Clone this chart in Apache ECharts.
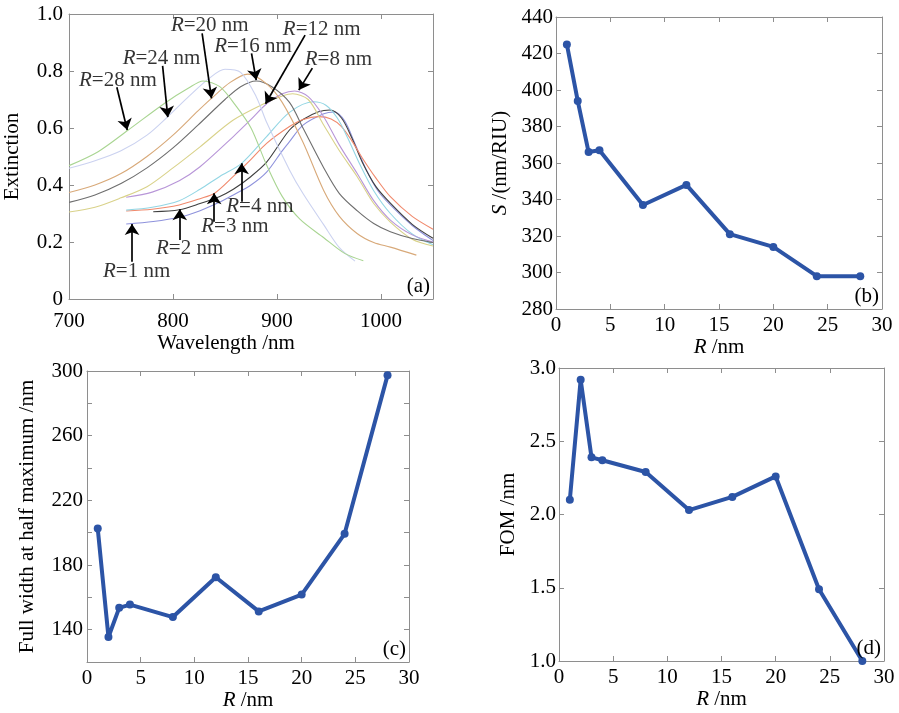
<!DOCTYPE html>
<html>
<head>
<meta charset="utf-8">
<title>Extinction spectra, sensitivity, FWHM and FOM versus R</title>
<script src="https://cdn.jsdelivr.net/npm/echarts@6/dist/echarts.min.js"></script>
<style>
  html, body { margin: 0; padding: 0; background: #ffffff; }
  #chart { width: 899px; height: 713px; }
</style>
</head>
<body>
<div id="chart"></div>
<script>
// ---- data -------------------------------------------------------------
const radii = [1, 2, 3, 4, 8, 12, 16, 20, 24, 28];               // R /nm
const sensitivity = [425, 394, 366, 367, 337, 348, 321, 314, 298, 298]; // S /(nm/RIU)
const fwhm = [202.6, 135.5, 153.5, 155.5, 147.8, 172.4, 151.3, 161.7, 199.3, 297.3]; // nm
const fom = [2.10, 2.92, 2.39, 2.37, 2.29, 2.03, 2.12, 2.26, 1.49, 1.0];

// extinction spectra, [wavelength /nm, extinction]
const spectrumR1 = [[755,0.263],[781,0.272],[806,0.287],[826,0.31],[845,0.34],[858,0.365],[875,0.40],[890,0.445],[905,0.52],[912,0.552],[925,0.61],[945,0.65],[955,0.656],[965,0.625],[975,0.545],[985,0.46],[997,0.38],[1009,0.33],[1030,0.258],[1050,0.205]];
const spectrumR2 = [[781,0.306],[806,0.313],[826,0.335],[845,0.36],[858,0.385],[875,0.43],[890,0.48],[912,0.593],[925,0.63],[940,0.657],[951,0.663],[962,0.635],[972,0.565],[982,0.48],[995,0.395],[1009,0.336],[1030,0.262],[1050,0.213]];
const spectrumR3 = [[755,0.309],[780,0.315],[806,0.33],[826,0.352],[840,0.371],[858,0.43],[875,0.49],[890,0.546],[912,0.605],[925,0.63],[940,0.64],[952,0.632],[962,0.605],[972,0.555],[982,0.495],[995,0.425],[1009,0.359],[1030,0.29],[1050,0.245]];
const spectrumR4 = [[755,0.312],[780,0.322],[806,0.345],[826,0.385],[845,0.43],[866,0.476],[890,0.57],[912,0.655],[935,0.692],[947,0.68],[958,0.635],[968,0.565],[980,0.47],[993,0.38],[1009,0.30],[1030,0.228],[1050,0.19]];
const spectrumR8 = [[755,0.357],[780,0.375],[806,0.415],[826,0.464],[858,0.57],[875,0.63],[890,0.685],[905,0.72],[917,0.73],[930,0.71],[944,0.645],[960,0.54],[977,0.441],[993,0.345],[1009,0.277],[1030,0.225],[1050,0.20]];
const spectrumR12 = [[700,0.305],[725,0.322],[750,0.355],[775,0.394],[800,0.46],[826,0.534],[858,0.628],[889,0.688],[905,0.712],[915,0.72],[930,0.70],[944,0.616],[960,0.52],[977,0.43],[993,0.335],[1009,0.27],[1030,0.21],[1050,0.186]];
const spectrumR16 = [[700,0.339],[725,0.365],[750,0.405],[775,0.46],[800,0.53],[824,0.61],[850,0.70],[865,0.745],[880,0.765],[895,0.745],[912,0.69],[925,0.60],[945,0.46],[960,0.37],[977,0.31],[993,0.265],[1009,0.236],[1030,0.212],[1050,0.198]];
const spectrumR20 = [[700,0.374],[725,0.40],[750,0.44],[775,0.50],[800,0.575],[824,0.66],[837,0.704],[855,0.76],[872,0.789],[890,0.755],[905,0.69],[925,0.55],[945,0.38],[960,0.29],[977,0.23],[993,0.198],[1009,0.182],[1034,0.154]];
const spectrumR24 = [[700,0.459],[725,0.485],[750,0.52],[775,0.575],[795,0.64],[815,0.71],[835,0.775],[850,0.806],[865,0.795],[880,0.71],[890,0.62],[912,0.453],[925,0.37],[945,0.26],[960,0.18],[975,0.133]];
const spectrumR28 = [[700,0.468],[728,0.517],[757,0.593],[792,0.687],[815,0.74],[829,0.765],[845,0.745],[860,0.68],[875,0.60],[890,0.47],[905,0.36],[922,0.28],[945,0.215],[965,0.16],[983,0.134]];

// annotation of each spectrum: text anchor, arrow tail, arrow tip (data coords)
const labelAnchors = [[765,0.096],[816,0.178],[859.5,0.254],[883.5,0.324],[959,0.839],[943,0.946],[877,0.885],[835.4,0.961],[789,0.845],[747,0.768]];
const arrowTails  = [[760.6,0.131],[806.5,0.207],[839.6,0.271],[866,0.341],[934,0.81],[927,0.926],[875.5,0.862],[828,0.932],[790,0.818],[746,0.743]];
const arrowTips   = [[760.6,0.263],[806.5,0.315],[839.6,0.371],[866,0.476],[921,0.733],[889,0.685],[880,0.768],[837,0.704],[795,0.638],[756,0.593]];

// ---- styling ------------------------------------------------------------
const FONT = 'Liberation Serif';
const FS = 21;
const TXT = '#000000';
const BOX = '#8e8e8e';
const BLUE = '#2c54a6';
const spectra = [spectrumR1, spectrumR2, spectrumR3, spectrumR4, spectrumR8, spectrumR12, spectrumR16, spectrumR20, spectrumR24, spectrumR28];
const spectrumColors = ['#8e92dc', '#3f3f3f', '#f0896c', '#93d6e4', '#b896d8', '#d9d28a', '#6e6e6e', '#d8a979', '#cbd2f0', '#a9d592'];

const grids = [
  { left: 69,  top: 14,  width: 364, height: 285 },
  { left: 556, top: 17,  width: 326, height: 292 },
  { left: 87,  top: 371, width: 322, height: 291 },
  { left: 559, top: 368, width: 325, height: 293 }
];
const tags = ['(a)', '(b)', '(c)', '(d)'];

const rich = { i: { fontStyle: 'italic', fontFamily: FONT, fontSize: FS, color: TXT } };
const labelStyle = { fontFamily: FONT, fontSize: FS, color: TXT };

function axisPair(kind, gridIndex, cfg) {
  const base = {
    type: 'value', gridIndex: gridIndex,
    min: cfg.min, max: cfg.max, interval: cfg.interval,
    splitLine: { show: false },
    axisLine: { show: true, onZero: false, lineStyle: { color: BOX, width: 1 } },
    axisTick: { show: true, inside: true, length: 5, lineStyle: { color: BOX } }
  };
  const main = Object.assign({}, base, {
    position: kind === 'x' ? 'bottom' : 'left',
    axisLabel: Object.assign({ margin: cfg.margin, formatter: cfg.formatter, showMaxLabel: cfg.showMax !== false }, labelStyle),
    name: cfg.name, nameLocation: 'middle', nameGap: cfg.nameGap,
    nameTextStyle: Object.assign({ rich: rich, padding: cfg.namePadding || 0 }, labelStyle)
  });
  const mirror = Object.assign({}, base, {
    position: kind === 'x' ? 'top' : 'right',
    axisLabel: { show: false }
  });
  return [main, mirror];
}

const xAxes = [].concat(
  axisPair('x', 0, { min: 700, max: 1050, interval: 100, margin: 12, name: 'Wavelength /nm', nameGap: 33, namePadding: [0, 50, 0, 0],
                     formatter: v => (v % 100 === 0 ? String(v) : ''), showMax: false }),
  axisPair('x', 1, { min: 0, max: 30, interval: 5, margin: 6, name: '{i|R} /nm', nameGap: 28, formatter: v => String(v) }),
  axisPair('x', 2, { min: 0, max: 30, interval: 5, margin: 6, name: '{i|R} /nm', nameGap: 28, formatter: v => String(v) }),
  axisPair('x', 3, { min: 0, max: 30, interval: 5, margin: 6, name: '{i|R} /nm', nameGap: 28, formatter: v => String(v) })
);
const yAxes = [].concat(
  axisPair('y', 0, { min: 0, max: 1, interval: 0.2, margin: 6, name: 'Extinction', nameGap: 46,
                     formatter: v => (v === 0 ? '0' : v.toFixed(1)) }),
  axisPair('y', 1, { min: 280, max: 440, interval: 20, margin: 3, name: '{i|S} /(nm/RIU)', nameGap: 45, formatter: v => String(v) }),
  axisPair('y', 2, { min: 120, max: 300, interval: 20, margin: 4, name: 'Full width at half maximum /nm', nameGap: 49,
                     formatter: v => ((v - 140) % 40 === 0 ? String(v) : '') }),
  axisPair('y', 3, { min: 1, max: 3, interval: 0.5, margin: 3, name: 'FOM /nm', nameGap: 40, formatter: v => v.toFixed(1) })
);

const series = [];
spectra.forEach((pts, k) => {
  series.push({
    type: 'line', xAxisIndex: 0, yAxisIndex: 0, data: pts,
    smooth: 0.3, showSymbol: false, clip: true,
    lineStyle: { color: spectrumColors[k], width: 1.1 }, z: 2
  });
});

// curve labels "R=.. nm" with arrows pointing onto each spectrum
series.push({
  type: 'scatter', xAxisIndex: 0, yAxisIndex: 0, symbolSize: 0, z: 5,
  data: labelAnchors.map(p => p),
  label: {
    show: true, position: 'inside', fontFamily: FONT, fontSize: FS, color: TXT,
    formatter: p => '{i|R}=' + radii[p.dataIndex] + ' nm', rich: rich
  },
  markLine: {
    silent: true, symbol: ['none', 'arrow'], symbolSize: 11, precision: 4,
    label: { show: false },
    lineStyle: { color: '#000000', width: 1.7, type: 'solid', opacity: 1 },
    itemStyle: { color: '#000000' },
    data: arrowTails.map((t, k) => [{ coord: t }, { coord: arrowTips[k] }])
  }
});

const panelData = [sensitivity, fwhm, fom];
panelData.forEach((vals, k) => {
  series.push({
    type: 'line', xAxisIndex: 2 * (k + 1), yAxisIndex: 2 * (k + 1),
    data: radii.map((r, i) => [r, vals[i]]),
    symbol: 'circle', symbolSize: 8, showSymbol: true, clip: false,
    itemStyle: { color: BLUE },
    lineStyle: { color: BLUE, width: 4 }
  });
});

const graphic = grids.map((g, k) => ({
  type: 'text',
  x: g.left + g.width - 3,
  y: g.top + g.height - 13,
  style: { text: tags[k], fontFamily: FONT, fontSize: FS, fill: TXT, align: 'right', verticalAlign: 'middle' },
  z: 10
}));

const chart = echarts.init(document.getElementById('chart'), null, { renderer: 'canvas' });
chart.setOption({
  backgroundColor: '#ffffff',
  animation: false,
  grid: grids,
  xAxis: xAxes,
  yAxis: yAxes,
  series: series,
  graphic: graphic
});
</script>
</body>
</html>
